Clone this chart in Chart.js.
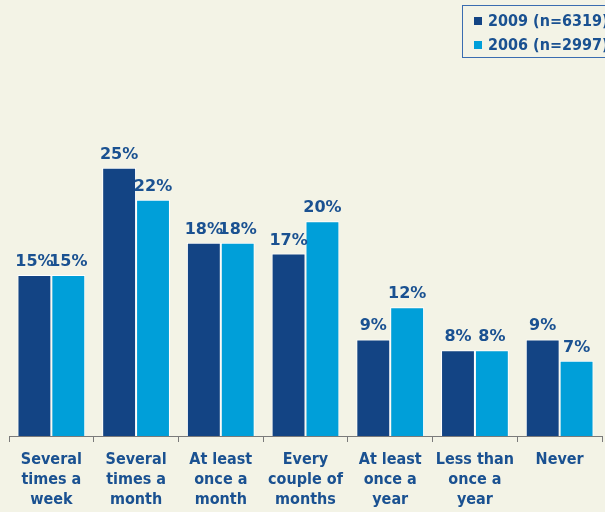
<!DOCTYPE html>
<html><head><meta charset="utf-8">
<script src="https://cdn.jsdelivr.net/npm/chart.js@4/dist/chart.umd.min.js"></script>
<style>html,body{margin:0;padding:0;background:#f3f3e6;overflow:hidden}#wrap{width:605px;height:512px}</style>
</head><body><div id="wrap"><canvas id="c" width="605" height="512"></canvas></div>
<script>
const categories = [["Several","times a","week"],["Several","times a","month"],["At least","once a","month"],["Every","couple of","months"],["At least","once a","year"],["Less than","once a","year"],["Never"]];
const series2009 = [15,25,18,17,9,8,9];
const series2006 = [15,22,18,20,12,8,7];
const seriesNames = ["2009 (n=6319)","2006 (n=2997)"];
const colors = ["#134484","#009fd9"];
const textColor = "#1a5191";
const FAM = "'DejaVu Sans Condensed','DejaVu Sans'";

const labelPlugin = {
  id:'vals',
  afterDatasetsDraw(chart){
    const ctx = chart.ctx;
    ctx.save();
    ctx.font = "bold 16px 'DejaVu Sans'";
    ctx.fillStyle = textColor;
    ctx.textAlign = 'center';
    ctx.textBaseline = 'alphabetic';
    chart.data.datasets.forEach((ds,di)=>{
      chart.getDatasetMeta(di).data.forEach((bar,i)=>{
        ctx.fillText(ds.data[i]+'%', bar.x, bar.y-9);
      });
    });
    ctx.restore();
  }
};
const legendPlugin = {
  id:'boxLegend',
  afterDraw(chart){
    const ctx = chart.ctx;
    ctx.save();
    ctx.strokeStyle = '#3a6cb0';
    ctx.lineWidth = 1;
    ctx.strokeRect(462.5,5.5,160,52);
    ctx.font = "bold 16px " + FAM;
    ctx.textBaseline = 'middle';
    chart.data.datasets.forEach((ds,i)=>{
      const y = 21 + i*24;
      ctx.fillStyle = ds.backgroundColor;
      ctx.fillRect(474, y-4, 8, 8);
      ctx.fillStyle = textColor;
      ctx.fillText(ds.label, 488, y+1);
    });
    ctx.restore();
  }
};

new Chart(document.getElementById('c'), {
  type:'bar',
  data:{
    labels: categories,
    datasets:[
      {label:seriesNames[0], data:series2009, backgroundColor:colors[0], borderColor:'#ffffff', borderWidth:1, categoryPercentage:0.8, barPercentage:1.0},
      {label:seriesNames[1], data:series2006, backgroundColor:colors[1], borderColor:'#ffffff', borderWidth:1, categoryPercentage:0.8, barPercentage:1.0}
    ]
  },
  options:{
    responsive:false,
    animation:false,
    layout:{padding:{left:9,right:3,top:114,bottom:0}},
    plugins:{legend:{display:false},tooltip:{enabled:false}},
    scales:{
      x:{
        afterFit(s){s.height=76;},
        grid:{display:true,drawOnChartArea:false,drawTicks:true,tickLength:6,color:'#7a7a7a',offset:true},
        border:{display:true,color:'#7a7a7a',width:1},
        ticks:{color:textColor,font:{family:FAM,size:16,weight:'bold',lineHeight:1.25},padding:8,maxRotation:0,autoSkip:false}
      },
      y:{display:false,min:0,max:30}
    }
  },
  plugins:[labelPlugin,legendPlugin]
});
</script></body></html>
